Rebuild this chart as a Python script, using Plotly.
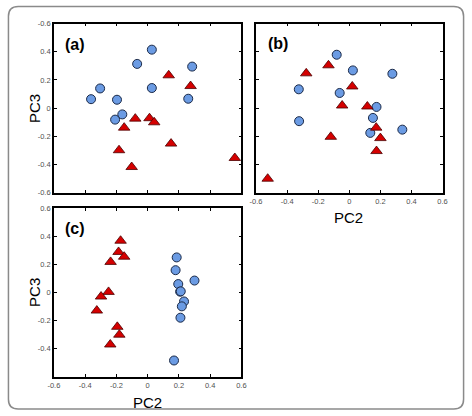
import plotly.graph_objects as go

# ---- data ----
a_circ_x = [-0.362, -0.304, -0.196, -0.208, -0.162, -0.067, 0.027, 0.027, 0.26, 0.285]
a_circ_y = [0.064, 0.14, 0.06, -0.081, -0.044, 0.314, 0.415, 0.143, 0.067, 0.295]
a_tri_x = [0.135, 0.275, -0.079, 0.012, 0.042, -0.15, 0.15, -0.183, -0.102, 0.558]
a_tri_y = [0.233, 0.157, -0.074, -0.071, -0.10, -0.138, -0.251, -0.298, -0.417, -0.353]

b_circ_x = [-0.081, 0.023, 0.277, -0.325, -0.062, 0.175, -0.323, 0.152, 0.135, 0.341]
b_circ_y = [0.379, 0.268, 0.244, 0.134, 0.108, 0.009, -0.092, -0.069, -0.175, -0.152]
b_tri_x = [-0.134, -0.277, 0.019, -0.046, 0.116, 0.173, 0.2, -0.119, 0.175, -0.525]
b_tri_y = [0.304, 0.247, 0.154, 0.019, 0.012, -0.138, -0.212, -0.203, -0.304, -0.5]

c_circ_x = [0.186, 0.179, 0.196, 0.208, 0.212, 0.3, 0.233, 0.219, 0.21, 0.169]
c_circ_y = [0.251, 0.16, 0.061, 0.007, 0.009, 0.086, -0.063, -0.098, -0.179, -0.484]
c_tri_x = [-0.173, -0.186, -0.15, -0.237, -0.25, -0.298, -0.325, -0.194, -0.181, -0.239]
c_tri_y = [0.37, 0.29, 0.256, 0.219, 0.005, -0.028, -0.128, -0.244, -0.3, -0.37]

tick_vals = [-0.6, -0.4, -0.2, 0, 0.2, 0.4, 0.6]
x_tick_text = ["-0.6", "-0.4", "-0.2", "0", "0.2", "0.4", "0.6"]
a_y_tick_text = ["-0.6", "-0.4", "-0.2", "0", "0.2", "0.4", "-0.6"]
c_y_tick_text = ["", "-0.4", "-0.2", "0", "0.2", "0.4", "0.6"]

W, H = 472, 416
circ_style = dict(symbol="circle", size=9, color="#6B9BE3", line=dict(color="#1B2A48", width=1))
tri_style = dict(symbol="triangle-up", size=10, color="#D50000", line=dict(color="#4A0000", width=0.8))

fig = go.Figure()
panels = [("", a_circ_x, a_circ_y, a_tri_x, a_tri_y),
          ("2", b_circ_x, b_circ_y, b_tri_x, b_tri_y),
          ("3", c_circ_x, c_circ_y, c_tri_x, c_tri_y)]
for suf, cx, cy, tx, ty in panels:
    fig.add_trace(go.Scatter(x=cx, y=cy, mode="markers", marker=circ_style,
                             xaxis="x" + suf, yaxis="y" + suf, showlegend=False))
    fig.add_trace(go.Scatter(x=tx, y=ty, mode="markers", marker=tri_style,
                             xaxis="x" + suf, yaxis="y" + suf, showlegend=False))

def px_dom_x(l, r):
    return [l / W, r / W]

def px_dom_y(t, b):
    return [1 - b / H, 1 - t / H]

tickfont = dict(family="Liberation Sans, Arial", size=7.5, color="#505050")
common = dict(range=[-0.6, 0.6], tickvals=tick_vals, ticks="inside", ticklen=3,
              tickwidth=1, tickcolor="black", showline=True, linecolor="black",
              linewidth=1.5, mirror="ticks", showgrid=False, zeroline=False,
              tickfont=tickfont, fixedrange=True)

fig.update_layout(
    width=W, height=H, margin=dict(l=0, r=0, t=0, b=0),
    paper_bgcolor="white", plot_bgcolor="white",
    xaxis=dict(domain=px_dom_x(49, 241), anchor="y", showticklabels=False, **common),
    yaxis=dict(domain=px_dom_y(20, 193), anchor="x", ticktext=a_y_tick_text, **common),
    xaxis2=dict(domain=px_dom_x(256, 447), anchor="y2", ticktext=x_tick_text, **common),
    yaxis2=dict(domain=px_dom_y(20, 193), anchor="x2", showticklabels=False, **common),
    xaxis3=dict(domain=px_dom_x(49, 241), anchor="y3", ticktext=x_tick_text, **common),
    yaxis3=dict(domain=px_dom_y(209, 381), anchor="x3", ticktext=c_y_tick_text, **common),
)

lab_font = dict(family="Liberation Sans, Arial", size=15, color="black")
panel_font = dict(family="Liberation Sans, Arial", size=16, color="black")
annos = [
    dict(text="PC3", x=29 / W, y=1 - 107 / H, textangle=-90, font=lab_font),
    dict(text="PC3", x=29 / W, y=1 - 295 / H, textangle=-90, font=lab_font),
    dict(text="PC2", x=351 / W, y=1 - 218 / H, font=lab_font),
    dict(text="PC2", x=145 / W, y=1 - 407 / H, font=lab_font),
    dict(text="<b>(a)</b>", x=71 / W, y=1 - 41 / H, font=panel_font),
    dict(text="<b>(b)</b>", x=278 / W, y=1 - 40 / H, font=panel_font),
    dict(text="<b>(c)</b>", x=71 / W, y=1 - 229 / H, font=panel_font),
]
for a in annos:
    a.update(xref="paper", yref="paper", showarrow=False, xanchor="center", yanchor="middle")
    fig.add_annotation(**a)

# rounded outer frame
l, r, t, b, rad = 2.5, 468.5, 2.5, 414, 10
def P(x, y):
    return f"{x / W:.5f},{1 - y / H:.5f}"
path = (f"M {P(l + rad, t)} L {P(r - rad, t)} Q {P(r, t)} {P(r, t + rad)} "
        f"L {P(r, b - rad)} Q {P(r, b)} {P(r - rad, b)} "
        f"L {P(l + rad, b)} Q {P(l, b)} {P(l, b - rad)} "
        f"L {P(l, t + rad)} Q {P(l, t)} {P(l + rad, t)} Z")
fig.add_shape(type="path", path=path, xref="paper", yref="paper",
              line=dict(color="#8a8a8a", width=1.5), layer="below")

fig.write_html("out.html")
